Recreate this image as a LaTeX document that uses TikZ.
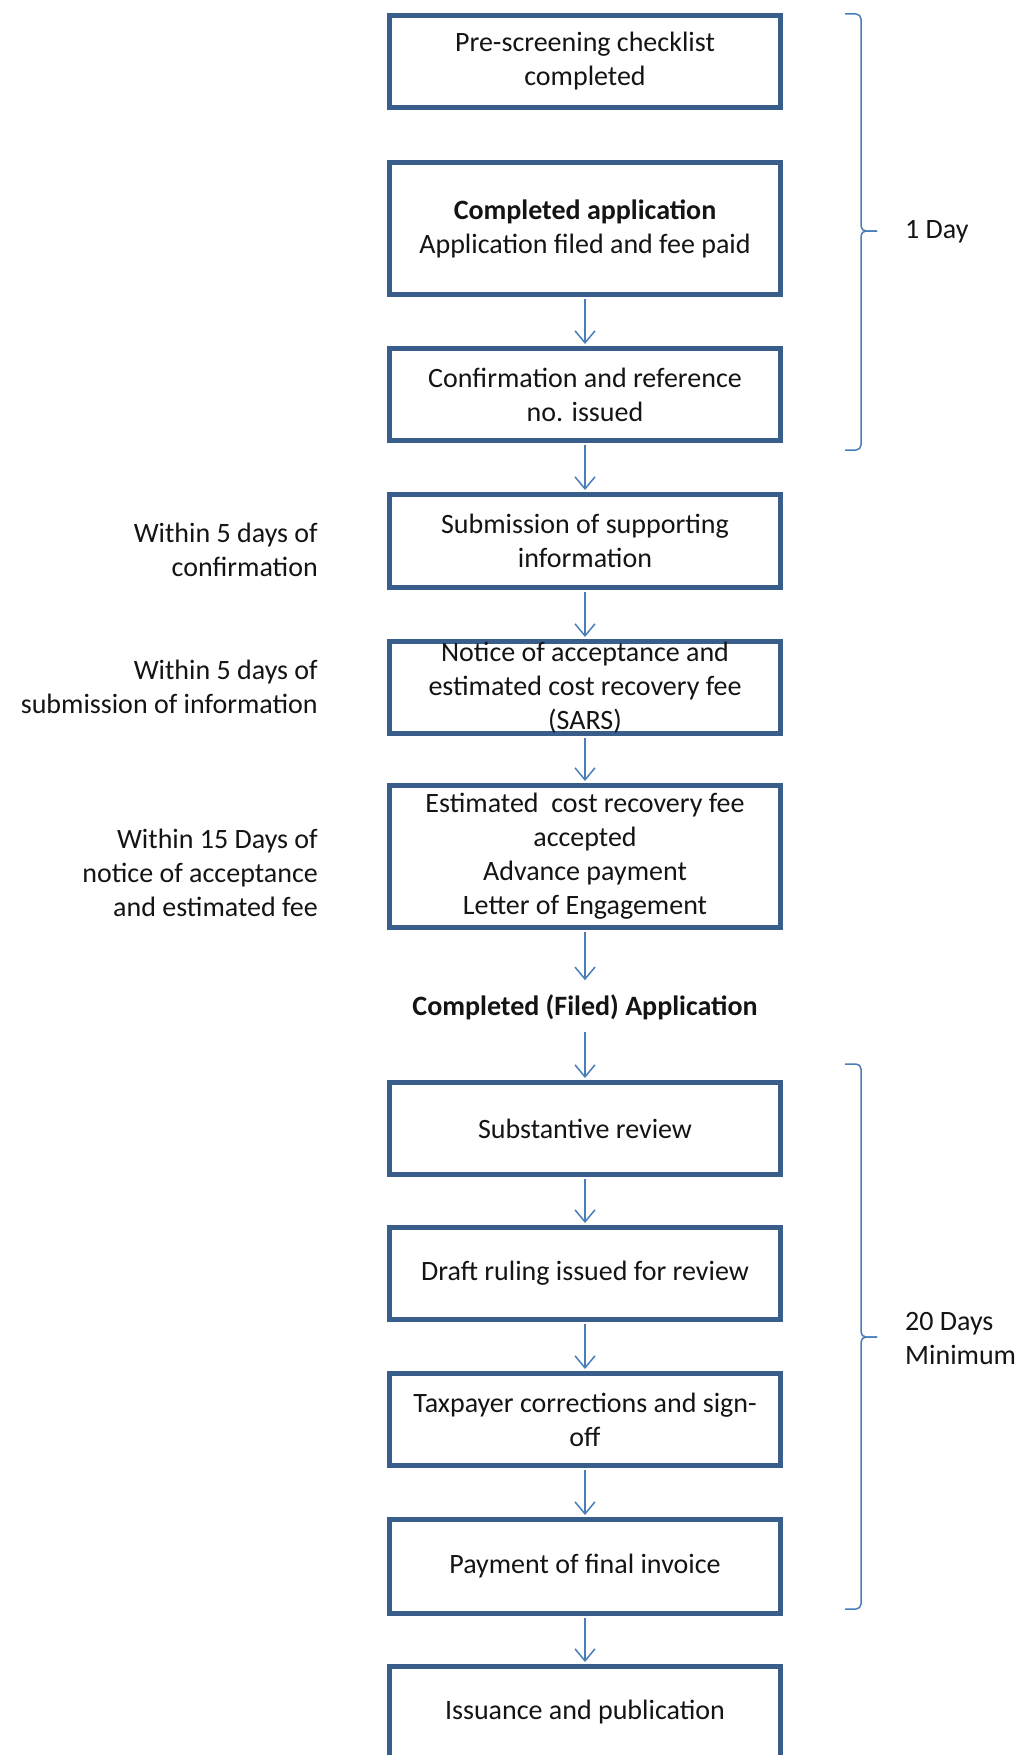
\documentclass[tikz,border=0pt]{standalone}
\usepackage{fontspec}
\setmainfont{Carlito}
\usetikzlibrary{arrows.meta}
\definecolor{boxblue}{HTML}{3A5E8C}
\definecolor{arrblue}{HTML}{4A7EBB}
\definecolor{textc}{HTML}{141414}
\begin{document}
\begin{tikzpicture}[x=1pt,y=-1pt,
  box/.style={draw=boxblue, line width=5pt, minimum width=391pt, minimum height=92pt,
    align=center, font=\fontsize{28}{34}\selectfont, text=textc, inner sep=0pt, fill=white},
  lbl/.style={font=\fontsize{28}{34}\selectfont, text=textc, inner sep=0pt},
  arr/.style={draw=arrblue, line width=1.5pt, -{Straight Barb[length=12pt,width=20pt,line width=1.5pt]}, shorten >=2pt, shorten <=2pt},
  brk/.style={draw=arrblue, line width=1.5pt, rounded corners=5pt}]
\useasboundingbox (0,0) rectangle (1024,1755);
\clip (0,0) rectangle (1024,1755);
\fill[white] (0,0) rectangle (1024,1755);

% main boxes
\node[box] (b1) at (585,61.5) {Pre-screening checklist\\completed};
\node[box, minimum height=132pt] (b2) at (585,228.5) {\textbf{Completed application}\\Application filed and fee paid};
\node[box] (b3) at (585,394.5) {Confirmation and reference\\no. issued};
\node[box, minimum height=93pt] (b4) at (585,541) {Submission of supporting\\information};
\node[box, inner ysep=-3pt] (b5) at (585,687.5) {Notice of acceptance and\\estimated cost recovery fee\\(SARS)};
\node[box, minimum height=142pt] (b6) at (585,856.5) {Estimated\ \ cost recovery fee\\accepted\\Advance payment\\Letter of Engagement};
\node[lbl, font=\fontsize{28}{34}\selectfont\bfseries] (filed) at (585,1007) {Completed (Filed) Application};
\node[box] (b7) at (585,1128.5) {Substantive review};
\node[box] (b8) at (585,1273.5) {Draft ruling issued for review};
\node[box] (b9) at (585,1419.5) {Taxpayer corrections and sign-\\off};
\node[box, minimum height=94pt] (b10) at (585,1566.5) {Payment of final invoice};
\node[box] (b11) at (585,1712.5) {Issuance and publication};

% connectors
\draw[arr] (b2) -- (b3);
\draw[arr] (b3) -- (b4);
\draw[arr] (b4) -- (b5);
\draw[arr] (b5) -- (b6);
\draw[arr, shorten >=14pt] (b6) -- (filed);
\draw[arr, shorten <=12pt] (filed) -- (b7);
\draw[arr] (b7) -- (b8);
\draw[arr] (b8) -- (b9);
\draw[arr] (b9) -- (b10);
\draw[arr] (b10) -- (b11);

% brackets
\coordinate (t1) at (877,231);
\coordinate (t2) at (877,1337);
\draw[brk] (845,14) -| (861,231) -- (t1);
\draw[brk] (845,450) -| (861,231) -- (t1);
\draw[brk] (845,1064) -| (861,1337) -- (t2);
\draw[brk] (845,1609) -| (861,1337) -- (t2);

% side labels
\node[lbl, anchor=west] (d1) at (905,232) {1 Day};
\node[lbl, anchor=west, align=left] (d20) at (905,1339) {20 Days\\Minimum};
\node[lbl, anchor=east, align=right] (w1) at (318,549.5) {Within 5 days of\\confirmation};
\node[lbl, anchor=east, align=right] (w2) at (318,686.5) {Within 5 days of\\submission of information};
\node[lbl, anchor=east, align=right] (w3) at (318,873) {Within 15 Days of\\notice of acceptance\\and estimated fee};
\end{tikzpicture}
\end{document}
